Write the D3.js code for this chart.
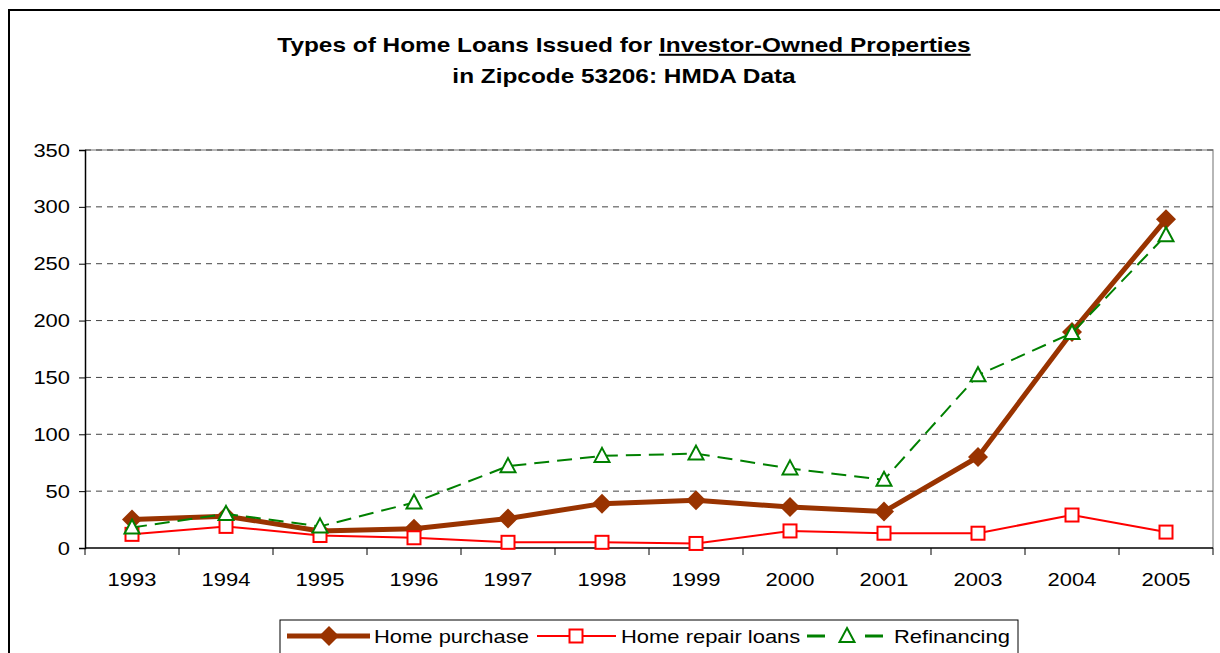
<!DOCTYPE html>
<html>
  <head>
    <title>Home Loans 53206</title>
    <script src="https://d3js.org/d3.v7.min.js"></script>
    <style>
      body { margin: 0; background: #fff; }
      text { font-family: "Liberation Sans", Arial, sans-serif; fill: #000; }
    </style>
  </head>
  <body>
    <div id="chart"></div>
    <script>
// Data
const years = ["1993","1994","1995","1996","1997","1998","1999","2000","2001","2003","2004","2005"];
const homePurchase = [25, 28, 15, 17, 26, 39, 42, 36, 32, 80, 190, 289];
const homeRepair = [12, 19, 11, 9, 5, 5, 4, 15, 13, 13, 29, 14];
const refinancing = [18, 30, 19, 40, 72, 81, 83, 70, 60, 152, 189, 275];
const yTicks = [0, 50, 100, 150, 200, 250, 300, 350];

const width = 1220;
const height = 653;
const marginTop = 150;
const marginRight = 7;
const marginBottom = 105;
const marginLeft = 85;
const stretch = 1.22; // the source text is drawn wide

const series = [
  { name: "Home purchase", values: homePurchase, color: "#993300", width: 5, dash: null, marker: "diamond" },
  { name: "Home repair loans", values: homeRepair, color: "#ff0000", width: 2, dash: null, marker: "square" },
  { name: "Refinancing", values: refinancing, color: "#008000", width: 2, dash: "15,8", marker: "triangle" }
];

function wideText(parent, x, y, str, size, anchor, bold) {
  const t = parent.append("g")
    .attr("transform", `translate(${x},${y}) scale(${stretch},1)`)
    .append("text")
    .attr("text-anchor", anchor || "start")
    .style("font-size", size + "px")
    .style("font-weight", bold ? "bold" : null);
  if (str !== null) t.text(str);
  return t;
}

function drawMarker(g, type, color, cx, cy) {
  if (type === "diamond") {
    g.append("path")
      .attr("d", `M${cx},${cy - 10}L${cx + 10},${cy}L${cx},${cy + 10}L${cx - 10},${cy}Z`)
      .attr("fill", color);
  } else if (type === "square") {
    g.append("rect")
      .attr("x", cx - 6.5).attr("y", cy - 6.5)
      .attr("width", 13).attr("height", 13)
      .attr("fill", "#fff").attr("stroke", color).attr("stroke-width", 2);
  } else {
    g.append("path")
      .attr("d", `M${cx},${cy - 8}L${cx + 7.5},${cy + 6}L${cx - 7.5},${cy + 6}Z`)
      .attr("fill", "#fff").attr("stroke", color).attr("stroke-width", 2);
  }
}

function createChart() {
  const x = d3.scaleBand()
    .domain(years)
    .range([marginLeft, width - marginRight]);

  const y = d3.scaleLinear()
    .domain([0, 350])
    .range([height - marginBottom, marginTop]);

  const svg = d3.select("#chart").append("svg")
    .attr("width", width)
    .attr("height", height)
    .attr("viewBox", [0, 0, width, height]);

  // Outer frame
  svg.append("rect")
    .attr("x", 9).attr("y", 10)
    .attr("width", width + 20).attr("height", height + 20)
    .attr("fill", "#fff").attr("stroke", "#000").attr("stroke-width", 2);

  // Title
  const title = wideText(svg, 624, 52, null, 20, "middle", true);
  title.append("tspan").text("Types of Home Loans Issued for ");
  title.append("tspan").attr("text-decoration", "underline").text("Investor-Owned Properties");
  wideText(svg, 624, 83, "in Zipcode 53206: HMDA Data", 20, "middle", true);

  // Plot area border (top, right)
  svg.append("path")
    .attr("d", `M${marginLeft},${y(350)}H${width - marginRight}V${y(0)}`)
    .attr("fill", "none")
    .attr("stroke", "#a0a0a0")
    .attr("stroke-width", 1.5);

  // Gridlines
  svg.append("g")
    .selectAll("line")
    .data(yTicks.filter(d => d > 0))
    .join("line")
    .attr("x1", marginLeft).attr("x2", width - marginRight)
    .attr("y1", d => y(d)).attr("y2", d => y(d))
    .attr("stroke", "#444")
    .attr("stroke-dasharray", "6,5");

  // Y axis
  const yAxis = svg.append("g")
    .attr("transform", `translate(${marginLeft},0)`)
    .call(d3.axisLeft(y).tickValues(yTicks).tickSize(6).tickFormat(""));
  yAxis.select(".domain").attr("stroke", "#000").attr("stroke-width", 1.5);
  yAxis.selectAll(".tick line").attr("stroke", "#000");
  yTicks.forEach(v => wideText(svg, 70, y(v) + 6.5, String(v), 18, "end"));

  // X axis: ticks at band boundaries, labels at centers
  const xAxis = svg.append("g")
    .attr("transform", `translate(0,${y(0)})`);
  xAxis.append("line")
    .attr("x1", marginLeft).attr("x2", width - marginRight)
    .attr("stroke", "#000").attr("stroke-width", 1.5);
  const bounds = years.map(d => x(d)).concat([x(years[years.length - 1]) + x.bandwidth()]);
  xAxis.selectAll(".bt")
    .data(bounds)
    .join("line")
    .attr("class", "bt")
    .attr("x1", d => d).attr("x2", d => d)
    .attr("y1", 0).attr("y2", 7)
    .attr("stroke", "#000");
  years.forEach(d => wideText(xAxis, x(d) + x.bandwidth() / 2, 38, d, 18, "middle"));

  // Series
  series.forEach(s => {
    const line = d3.line()
      .x((d, i) => x(years[i]) + x.bandwidth() / 2)
      .y(d => y(d));
    svg.append("path")
      .datum(s.values)
      .attr("fill", "none")
      .attr("stroke", s.color)
      .attr("stroke-width", s.width)
      .attr("stroke-linejoin", "round")
      .attr("stroke-dasharray", s.dash)
      .attr("d", line);
    const mg = svg.append("g");
    s.values.forEach((v, i) => {
      drawMarker(mg, s.marker, s.color, x(years[i]) + x.bandwidth() / 2, y(v));
    });
  });

  // Legend
  const legend = svg.append("g");
  legend.append("rect")
    .attr("x", 280).attr("y", 620)
    .attr("width", 738).attr("height", 40)
    .attr("fill", "#fff").attr("stroke", "#000").attr("stroke-width", 1);
  const ly = 636;
  const legendItems = [
    { s: series[0], segs: [[287, 370]], mx: 329, tx: 374 },
    { s: series[1], segs: [[537, 616]], mx: 576, tx: 621 },
    { s: series[2], segs: [[807, 825], [865, 883]], mx: 847, tx: 894 }
  ];
  legendItems.forEach(it => {
    it.segs.forEach(seg => {
      legend.append("line")
        .attr("x1", seg[0]).attr("x2", seg[1])
        .attr("y1", ly).attr("y2", ly)
        .attr("stroke", it.s.color)
        .attr("stroke-width", it.s.width + (it.s.dash ? 1 : 0));
    });
    drawMarker(legend, it.s.marker, it.s.color, it.mx, ly);
    wideText(legend, it.tx, ly + 7, it.s.name, 18, "start");
  });
}

createChart();
    </script>
  </body>
</html>
